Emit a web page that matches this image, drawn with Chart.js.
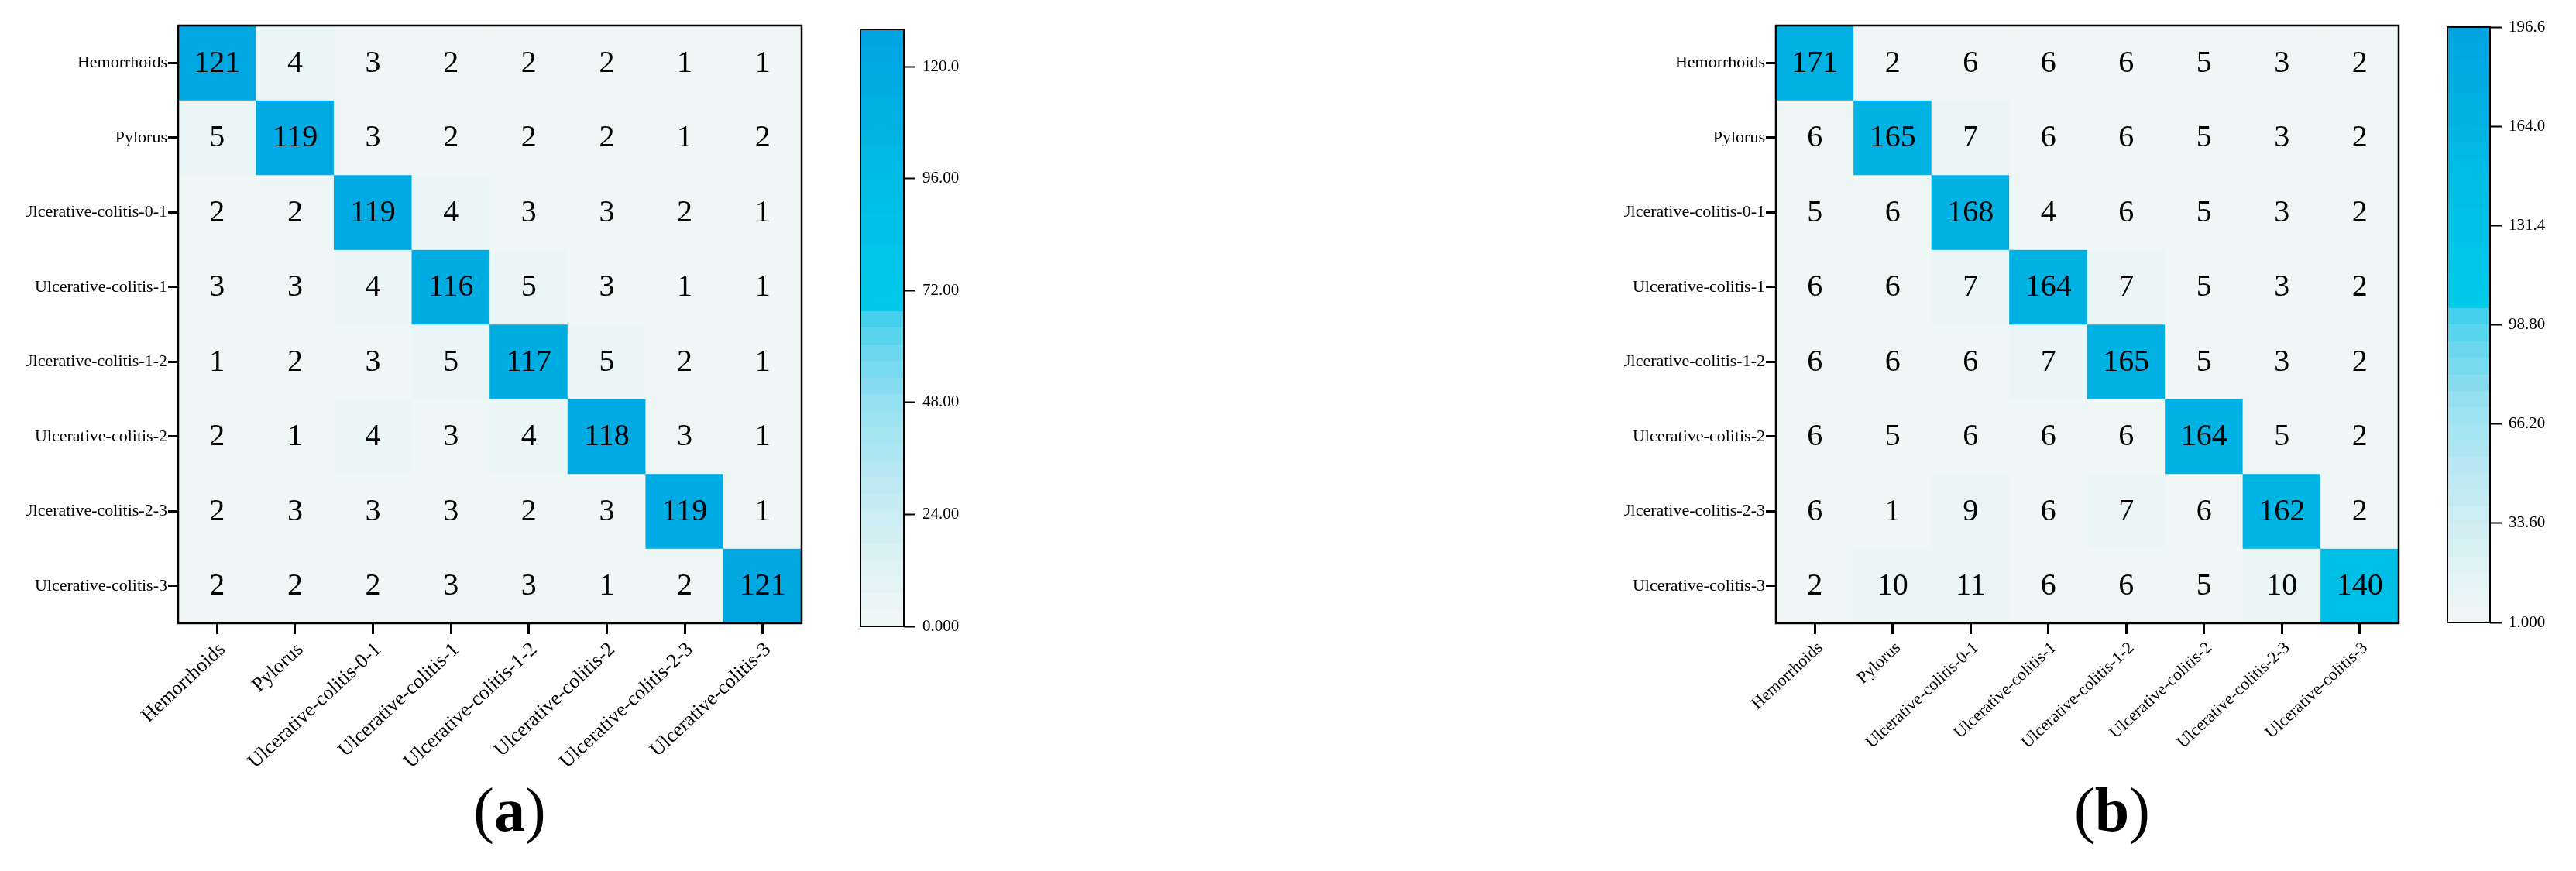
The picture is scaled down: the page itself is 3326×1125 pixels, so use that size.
<!DOCTYPE html>
<html>
<head>
<meta charset="utf-8">
<script src="https://cdn.jsdelivr.net/npm/chart.js@4.4.1/dist/chart.umd.min.js"></script>
<style>
  body { margin: 0; background: #fff; width: 3326px; height: 1125px; position: relative; overflow: hidden; }
  canvas { position: absolute; }
  .cap {
    position: absolute; width: 200px; text-align: center;
    font-family: "Liberation Serif", "Times New Roman", serif;
    font-size: 80px; line-height: 80px; color: #000;
  }
</style>
</head>
<body>
<canvas id="matA" width="1011" height="1000" style="left:34px;top:0"></canvas>
<canvas id="barA" width="200" height="860" style="left:1100px;top:0"></canvas>
<canvas id="matB" width="1010" height="1000" style="left:2097px;top:0"></canvas>
<canvas id="barB" width="176" height="860" style="left:3150px;top:0"></canvas>
<div class="cap" style="left:558px;top:1006px">(<b>a</b>)</div>
<div class="cap" style="left:2627px;top:1006px">(<b>b</b>)</div>

<script>
const classNames = [
  "Hemorrhoids", "Pylorus", "Ulcerative-colitis-0-1", "Ulcerative-colitis-1",
  "Ulcerative-colitis-1-2", "Ulcerative-colitis-2", "Ulcerative-colitis-2-3", "Ulcerative-colitis-3"
];

// rows = true class, columns = predicted class
const countsA = [
  [121, 4, 3, 2, 2, 2, 1, 1],
  [5, 119, 3, 2, 2, 2, 1, 2],
  [2, 2, 119, 4, 3, 3, 2, 1],
  [3, 3, 4, 116, 5, 3, 1, 1],
  [1, 2, 3, 5, 117, 5, 2, 1],
  [2, 1, 4, 3, 4, 118, 3, 1],
  [2, 3, 3, 3, 2, 3, 119, 1],
  [2, 2, 2, 3, 3, 1, 2, 121]
];

const countsB = [
  [171, 2, 6, 6, 6, 5, 3, 2],
  [6, 165, 7, 6, 6, 5, 3, 2],
  [5, 6, 168, 4, 6, 5, 3, 2],
  [6, 6, 7, 164, 7, 5, 3, 2],
  [6, 6, 6, 7, 165, 5, 3, 2],
  [6, 5, 6, 6, 6, 164, 5, 2],
  [6, 1, 9, 6, 7, 6, 162, 2],
  [2, 10, 11, 6, 6, 5, 10, 140]
];

const rangeA = [0, 128];
const rangeB = [1, 196.6];
const cbTicksA = [0, 24, 48, 72, 96, 120];
const cbLabelsA = ["0.000", "24.00", "48.00", "72.00", "96.00", "120.0"];
const cbTicksB = [1, 33.6, 66.2, 98.8, 131.4, 164, 196.6];
const cbLabelsB = ["1.000", "33.60", "66.20", "98.80", "131.4", "164.0", "196.6"];

const SERIF = '"Liberation Serif", "Times New Roman", serif';
const BANDS = 36;
const STOPS = [
  [0.00, [242, 248, 246]],
  [0.14, [214, 240, 243]],
  [0.25, [186, 232, 242]],
  [0.375, [148, 224, 240]],
  [0.47, [100, 214, 238]],
  [0.525, [60, 206, 236]],
  [0.535, [0, 202, 234]],
  [0.75, [0, 188, 230]],
  [1.00, [0, 163, 224]]
];

function mapColor(f) {
  for (let i = 1; i < STOPS.length; i++) {
    const [f1, c1] = STOPS[i];
    const [f0, c0] = STOPS[i - 1];
    if (f <= f1) {
      const t = (f - f0) / (f1 - f0);
      const c = c0.map((v, k) => Math.round(v + (c1[k] - v) * t));
      return `rgb(${c[0]},${c[1]},${c[2]})`;
    }
  }
  const c = STOPS[STOPS.length - 1][1];
  return `rgb(${c[0]},${c[1]},${c[2]})`;
}

function bandColor(v, range) {
  const f = (v - range[0]) / (range[1] - range[0]);
  const k = Math.min(BANDS - 1, Math.max(0, Math.floor(f * BANDS)));
  return mapColor((k + 0.5) / BANDS);
}

const framePlugin = {
  id: "frame",
  afterDatasetsDraw(chart, args, opts) {
    const { ctx, chartArea: a } = chart;
    ctx.save();
    ctx.strokeStyle = "#000";
    ctx.lineWidth = opts.width || 2;
    ctx.strokeRect(a.left, a.top, a.right - a.left, a.bottom - a.top);
    ctx.restore();
  }
};

const cellLabels = {
  id: "cellLabels",
  afterDatasetsDraw(chart, args, opts) {
    const { ctx } = chart;
    ctx.save();
    ctx.font = opts.font;
    ctx.fillStyle = "#000";
    ctx.textAlign = "center";
    ctx.textBaseline = "middle";
    chart.data.datasets.forEach((ds, i) => {
      chart.getDatasetMeta(i).data.forEach((bar, j) => {
        const p = bar.getCenterPoint();
        ctx.fillText(String(ds.counts[j]), p.x, p.y + 1);
      });
    });
    ctx.restore();
  }
};

function heatmap(id, counts, range, xFont) {
  return new Chart(document.getElementById(id), {
    type: "bar",
    data: {
      labels: classNames,
      datasets: counts.map((row, r) => ({
        counts: row,
        data: row.map(() => [r, r + 1]),
        backgroundColor: row.map(v => bandColor(v, range)),
        borderWidth: 0,
        barPercentage: 1,
        categoryPercentage: 1
      }))
    },
    options: {
      responsive: false,
      animation: false,
      events: [],
      layout: { padding: { top: 33, right: 10, left: 0, bottom: 0 } },
      plugins: {
        legend: { display: false },
        tooltip: { enabled: false },
        frame: { width: 2.5 },
        cellLabels: { font: "40px " + SERIF }
      },
      scales: {
        x: {
          stacked: true,
          grid: { offset: false, drawOnChartArea: false, tickLength: 14, tickWidth: 3, tickColor: "#000" },
          border: { display: false },
          ticks: {
            minRotation: 43, maxRotation: 43, autoSkip: false, padding: 5, labelOffset: 7, color: "#000",
            font: { family: SERIF, size: xFont }
          },
          afterFit: s => { s.height = 195; }
        },
        y: {
          stacked: false,
          min: 0, max: 8, reverse: true,
          grid: { drawOnChartArea: false, tickLength: 13, tickWidth: 3, tickColor: "#000" },
          border: { display: false },
          afterBuildTicks: s => { s.ticks = classNames.map((_, i) => ({ value: i + 0.5 })); },
          ticks: {
            padding: 1, color: "#000",
            font: { family: SERIF, size: 22 },
            callback: (v, i) => classNames[i]
          },
          afterFit: s => { s.width = 196; }
        }
      }
    },
    plugins: [framePlugin, cellLabels]
  });
}

function barGradient(chart, range) {
  const { ctx, chartArea, scales } = chart;
  if (!chartArea || !scales.y) return mapColor(0.5);
  const y0 = scales.y.getPixelForValue(range[0]);
  const y1 = scales.y.getPixelForValue(range[1]);
  const g = ctx.createLinearGradient(0, y0, 0, y1);
  for (let k = 0; k < BANDS; k++) {
    const c = mapColor((k + 0.5) / BANDS);
    g.addColorStop(k / BANDS, c);
    g.addColorStop((k + 1) / BANDS, c);
  }
  return g;
}

function colorbar(id, range, ticks, labels, pad, axisWidth) {
  return new Chart(document.getElementById(id), {
    type: "bar",
    data: {
      labels: [""],
      datasets: [{
        data: [range],
        backgroundColor: c => barGradient(c.chart, range),
        borderWidth: 0,
        barPercentage: 1,
        categoryPercentage: 1
      }]
    },
    options: {
      responsive: false,
      animation: false,
      events: [],
      layout: { padding: pad },
      plugins: {
        legend: { display: false },
        tooltip: { enabled: false },
        frame: { width: 2 }
      },
      scales: {
        x: { display: false },
        y: {
          position: "right",
          min: range[0], max: range[1],
          grid: { drawOnChartArea: false, tickLength: 15, tickWidth: 2, tickColor: "#000" },
          border: { display: false },
          afterBuildTicks: s => { s.ticks = ticks.map(v => ({ value: v })); },
          ticks: {
            padding: 9, color: "#000",
            font: { family: SERIF, size: 21 },
            callback: (v, i) => labels[i]
          },
          afterFit: s => { s.width = axisWidth; }
        }
      }
    },
    plugins: [framePlugin]
  });
}

heatmap("matA", countsA, rangeA, 26);
heatmap("matB", countsB, rangeB, 22);
colorbar("barA", rangeA, cbTicksA, cbLabelsA, { left: 11, top: 38, bottom: 51, right: 0 }, 133);
colorbar("barB", rangeB, cbTicksB, cbLabelsB, { left: 10, top: 35, bottom: 56, right: 0 }, 111);
</script>
</body>
</html>
